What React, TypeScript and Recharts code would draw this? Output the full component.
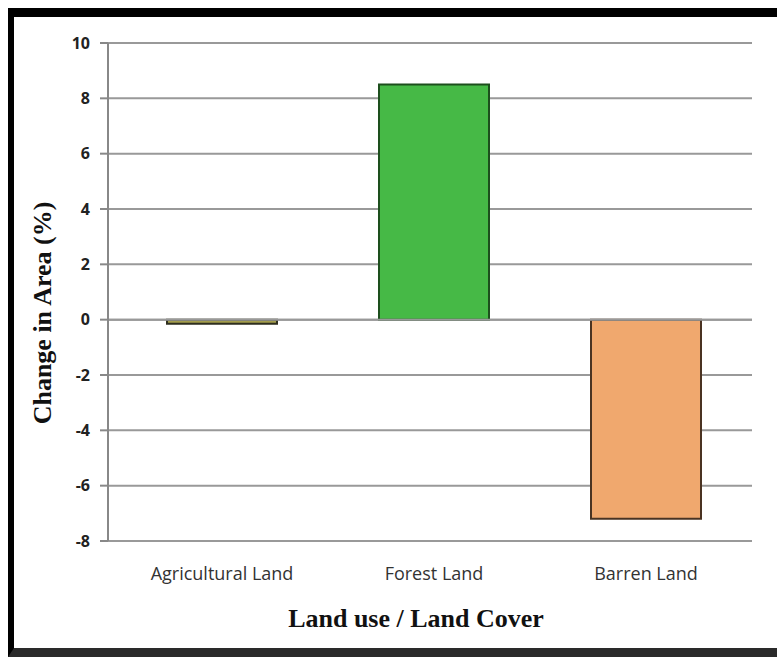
import React from "react";
import { BarChart, Bar, XAxis, YAxis, CartesianGrid, ReferenceLine, Cell, Label } from "recharts";

const categories = ["Agricultural Land", "Forest Land", "Barren Land"];
const changeValues = [-0.15, 8.5, -7.2];
const yTicks = [-8, -6, -4, -2, 0, 2, 4, 6, 8, 10];
const fills = ["#a39d4c", "#46b946", "#f0a86e"];
const strokes = ["#2e2e1e", "#1d4f1d", "#4a3322"];

const data = categories.map((name, i) => ({ name, value: changeValues[i] }));

const titleStyle = { fill: "#111", fontSize: 26, fontWeight: "bold", fontFamily: "Liberation Serif" } as const;

export default function App() {
  return (
    <div style={{ position: "absolute", left: 0, top: 0, width: 777, height: 657, background: "#fff", overflow: "hidden" }}>
      <div
        style={{
          position: "absolute",
          left: 8,
          top: 8,
          width: 777,
          height: 649,
          boxSizing: "border-box",
          borderTop: "9px solid #000",
          borderLeft: "6px solid #000",
          borderBottom: "9px solid #2a2a2a",
        }}
      />
      <div style={{ position: "absolute", left: 0, top: 0 }}>
        <BarChart width={777} height={657} data={data} margin={{ top: 43, right: 25, left: 0, bottom: 0 }}>
          <CartesianGrid vertical={false} stroke="#999" strokeWidth={2} />
          <XAxis
            dataKey="name"
            axisLine={false}
            tickLine={false}
            height={116}
            interval={0}
            padding={{ left: 8, right: 0 }}
            tickMargin={20}
            tick={{ fill: "#333", fontSize: 18, fontFamily: "Open Sans" }}
          >
            <Label
              content={() => (
                <text x={416} y={627} textAnchor="middle" style={titleStyle}>
                  Land use / Land Cover
                </text>
              )}
            />
          </XAxis>
          <YAxis
            domain={[-8, 10]}
            ticks={yTicks}
            width={108}
            axisLine={{ stroke: "#888", strokeWidth: 2 }}
            tickLine={{ stroke: "#888", strokeWidth: 2 }}
            tickSize={8}
            tickMargin={10}
            tick={{ fill: "#222", fontSize: 16, fontWeight: "bold", fontFamily: "Open Sans" }}
          >
            <Label
              content={() => (
                <text transform="translate(51,313) rotate(-90)" textAnchor="middle" style={titleStyle}>
                  Change in Area (%)
                </text>
              )}
            />
          </YAxis>
          <ReferenceLine y={0} stroke="#999" strokeWidth={2} />
          <Bar dataKey="value" barSize={110} isAnimationActive={false} strokeWidth={2}>
            {data.map((d, i) => (
              <Cell key={d.name} fill={fills[i]} stroke={strokes[i]} />
            ))}
          </Bar>
        </BarChart>
      </div>
    </div>
  );
}
